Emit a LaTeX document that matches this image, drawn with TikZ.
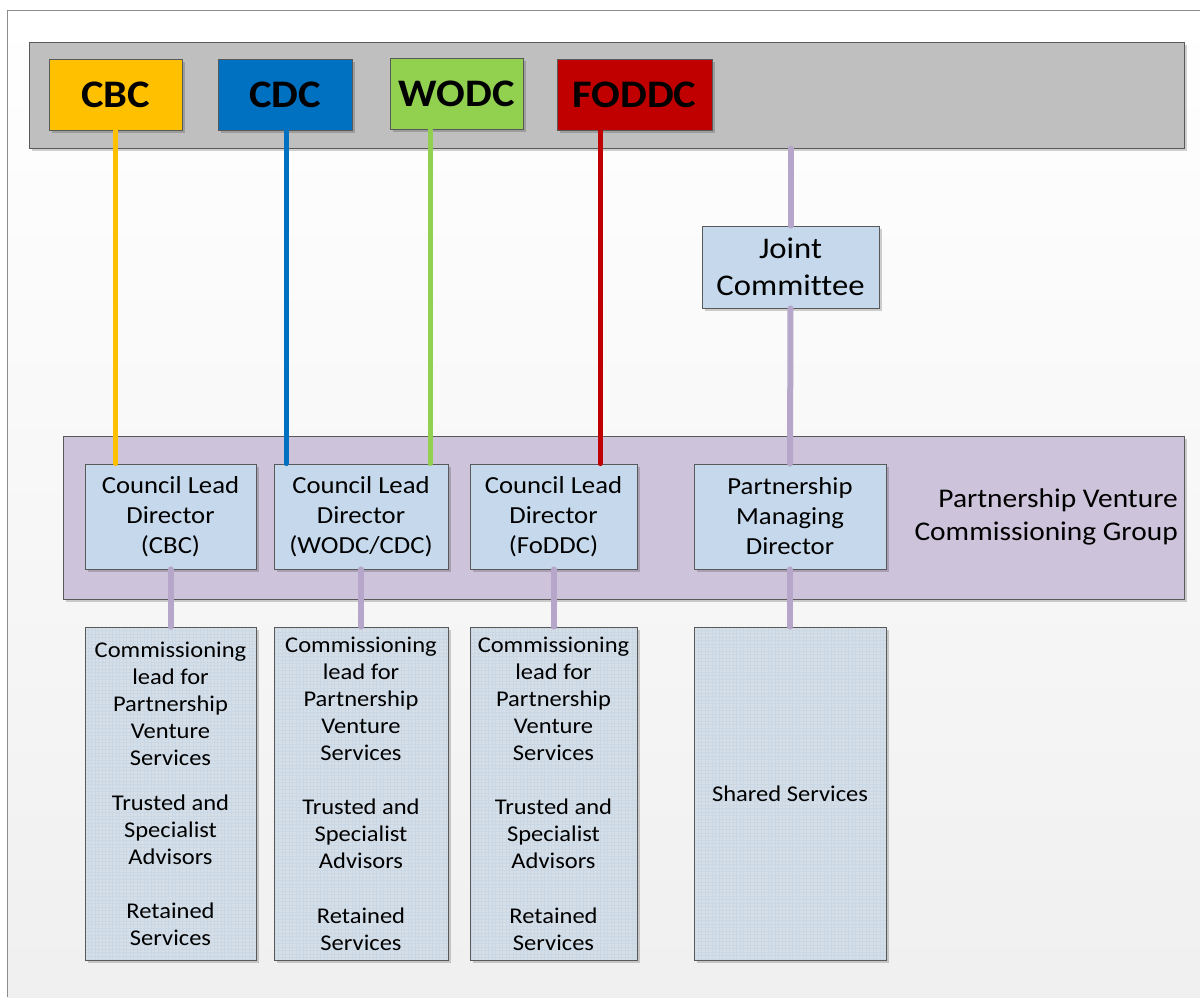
\documentclass[tikz,border=0pt]{standalone}
\usepackage{fontspec}
\setmainfont{Carlito}[FakeStretch=1.09, Ligatures=CommonOff]
\usetikzlibrary{shadows}
\definecolor{barc}{HTML}{BFBFBF}
\definecolor{cbcc}{HTML}{FFC000}
\definecolor{cdcc}{HTML}{0070C0}
\definecolor{wodcc}{HTML}{92D050}
\definecolor{foddcc}{HTML}{C00000}
\definecolor{boxc}{HTML}{C6D9EC}
\definecolor{grpc}{HTML}{CDC3DA}
\definecolor{linkc}{HTML}{B5A6CA}
\definecolor{lowc}{HTML}{D6DFE8}
\definecolor{gridc}{HTML}{CAD8E6}
\tikzset{
  box/.style={draw=black!65, line width=0.8pt, inner sep=0pt, align=center,
    drop shadow={shadow xshift=2.5pt, shadow yshift=-2.5pt, opacity=0.18, fill=black}},
  council/.style={box, minimum height=71pt, font=\fontsize{39}{44}\bfseries\selectfont},
  lead/.style={box, fill=boxc, minimum height=105pt, font=\fontsize{24.5}{30}\selectfont},
  low/.style={box, fill=lowc, minimum height=333pt, font=\fontsize{22.5}{27}\selectfont,
    path picture={\draw[gridc, line width=0.3pt] (path picture bounding box.south west) grid[step=3.5pt] (path picture bounding box.north east);}},
  colink/.style={line width=5pt, line cap=round},
  plink/.style={line width=6pt, line cap=round, linkc},
}
\begin{document}
\begin{tikzpicture}[x=1pt, y=-1pt]
\useasboundingbox (0,0) rectangle (1200,997);
\shade[top color=white, bottom color=black!6] (7,10) rectangle (1200,997);
\draw[black!45, line width=1pt] (7,997) -- (7,10) -- (1200,10);

% top bar
\node[box, fill=barc, minimum width=1155pt, minimum height=106pt] (bar) at (606.5,95) {};
\node[council, fill=cbcc, minimum width=133pt] (cbc) at (115.5,94.5) {CBC};
\node[council, fill=cdcc, minimum width=134pt] (cdc) at (285,94.5) {CDC};
\node[council, fill=wodcc, minimum width=133pt] (wodc) at (456.5,94) {WODC};
\node[council, fill=foddcc, minimum width=155pt] (foddc) at (634.5,94.5) {FODDC};

% joint committee
\node[box, fill=boxc, minimum width=177pt, minimum height=82pt, font=\fontsize{30}{37}\selectfont] (jc) at (790.5,267) {Joint\\Committee};

% group
\node[box, fill=grpc, minimum width=1121pt, minimum height=163pt] (grp) at (623.5,517.5) {};
\node[anchor=east, align=right, inner sep=0pt, font=\fontsize{27}{33}\selectfont] (grplabel) at (1178,516.5) {Partnership Venture\\Commissioning Group};

\node[lead, minimum width=171pt] (cl1) at (170.5,516.5) {Council Lead\\Director\\(CBC)};
\node[lead, minimum width=174pt] (cl2) at (361,516.5) {Council Lead\\Director\\(WODC/CDC)};
\node[lead, minimum width=167pt] (cl3) at (553.5,516.5) {Council Lead\\Director\\(FoDDC)};
\node[lead, minimum width=192pt] (pmd) at (790,516.5) {Partnership\\Managing\\Director};

% bottom boxes
\node[low, minimum width=171pt] (lo1) at (170.5,793.5) {Commissioning\\lead for\\Partnership\\Venture\\Services\\[18pt]Trusted and\\Specialist\\Advisors\\[27pt]Retained\\Services};
\node[low, minimum width=174pt] (lo2) at (361,793.5) {Commissioning\\lead for\\Partnership\\Venture\\Services\\[27pt]Trusted and\\Specialist\\Advisors\\[28pt]Retained\\Services};
\node[low, minimum width=167pt] (lo3) at (553.5,793.5) {Commissioning\\lead for\\Partnership\\Venture\\Services\\[27pt]Trusted and\\Specialist\\Advisors\\[28pt]Retained\\Services};
\node[low, minimum width=192pt] (lo4) at (790,793.5) {Shared Services};

% coloured connectors
\draw[colink, cbcc] (cbc.south) -- (cbc.south |- cl1.north);
\draw[colink, cdcc] ([xshift=1pt]cdc.south) -- ([xshift=1pt]cdc.south |- cl2.north);
\draw[colink, wodcc] ([xshift=-26.5pt]wodc.south) -- ([xshift=-26.5pt]wodc.south |- cl2.north);
\draw[colink, foddcc] ([xshift=-34.5pt]foddc.south) -- ([xshift=-34.5pt]foddc.south |- cl3.north);

% purple connectors
\draw[plink] (jc.north) -- (jc.north |- bar.south);
\draw[plink] (jc.south) -- (pmd.north);
\draw[plink] (cl1.south) -- (lo1.north);
\draw[plink] (cl2.south) -- (lo2.north);
\draw[plink] (cl3.south) -- (lo3.north);
\draw[plink] (pmd.south) -- (lo4.north);
\end{tikzpicture}
\end{document}
